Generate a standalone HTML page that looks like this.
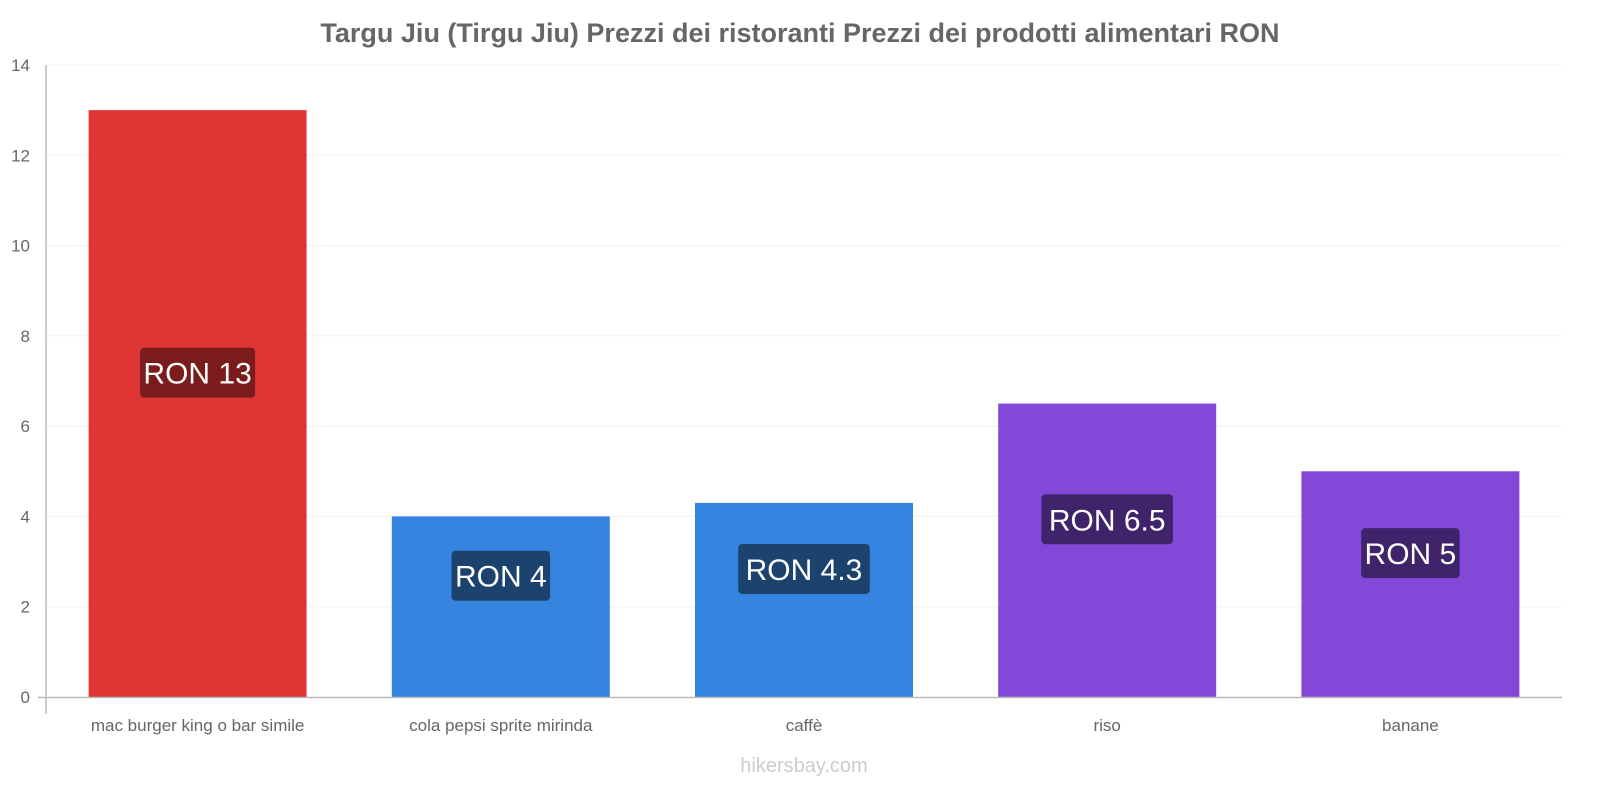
<!DOCTYPE html>
<html><head><meta charset="utf-8"><style>
body{margin:0;background:#fff;width:1600px;height:800px;overflow:hidden;font-family:"Liberation Sans",sans-serif}
</style></head><body>
<svg id="chart" width="1600" height="800" xmlns="http://www.w3.org/2000/svg" font-family="Liberation Sans, sans-serif">
<text x="800" y="42" text-anchor="middle" font-size="27" font-weight="bold" fill="#666">Targu Jiu (Tirgu Jiu) Prezzi dei ristoranti Prezzi dei prodotti alimentari RON</text>
<g id="grid"></g><g id="bars"></g>
<line x1="46" y1="65" x2="46" y2="714" stroke="#bbb" stroke-width="1.5"/>
<line x1="38" y1="697.5" x2="1562" y2="697.5" stroke="#bbb" stroke-width="1.5"/>
<text x="804" y="772" text-anchor="middle" font-size="20" fill="#ccc">hikersbay.com</text>
</svg>
<script>
const categories=["mac burger king o bar simile","cola pepsi sprite mirinda","caffè","riso","banane"];
const values=[13,4,4.3,6.5,5];
const valueLabels=["RON 13","RON 4","RON 4.3","RON 6.5","RON 5"];
const yTicks=[0,2,4,6,8,10,12,14];
const colors=["#e03535","#3584e0","#3584e0","#8249d9","#8249d9"];
const labelColors=["#7a1c1c","#1c426e","#1c426e","#40246b","#40246b"];
const NS="http://www.w3.org/2000/svg";
const x0=46,x1=1562,y0=697,yTop=65,yMax=14;
const y=v=>y0-(y0-yTop)*v/yMax;
const bw=(x1-x0)/categories.length;
function mk(t,a,p){const e=document.createElementNS(NS,t);for(const k in a)e.setAttribute(k,a[k]);p.appendChild(e);return e;}
const grid=document.getElementById('grid'),bars=document.getElementById('bars');
yTicks.forEach(t=>{
 if(t>0){const l=mk('line',{x1:x0,x2:x1,y1:y(t),y2:y(t),stroke:'#f0f0f0'},grid);
 
 }
 const tx=mk('text',{x:30,y:y(t)+6,'text-anchor':'end','font-size':17,fill:'#666'},grid);tx.textContent=t;
 
 
});
categories.forEach((c,i)=>{
 const cx=x0+bw*(i+0.5),w=218;
 const r=mk('rect',{x:cx-w/2,y:y(values[i]),width:w,height:y0-y(values[i]),fill:colors[i]},bars);
 
 
 const cy=(y(values[i])+y0)/2-31;
 const tw=valueLabels[i].length*16.5+16;
 const b=mk('rect',{x:cx-tw/2,y:cy-25,width:tw,height:50,rx:4,fill:labelColors[i]},bars);
 
 
 const t=mk('text',{x:cx,y:cy+11,'text-anchor':'middle','font-size':30,fill:'#fff'},bars);t.textContent=valueLabels[i];
 
 
 const cl=mk('text',{x:cx,y:731,'text-anchor':'middle','font-size':17,fill:'#666'},bars);cl.textContent=c;
 
 
});
</script>
</body></html>
